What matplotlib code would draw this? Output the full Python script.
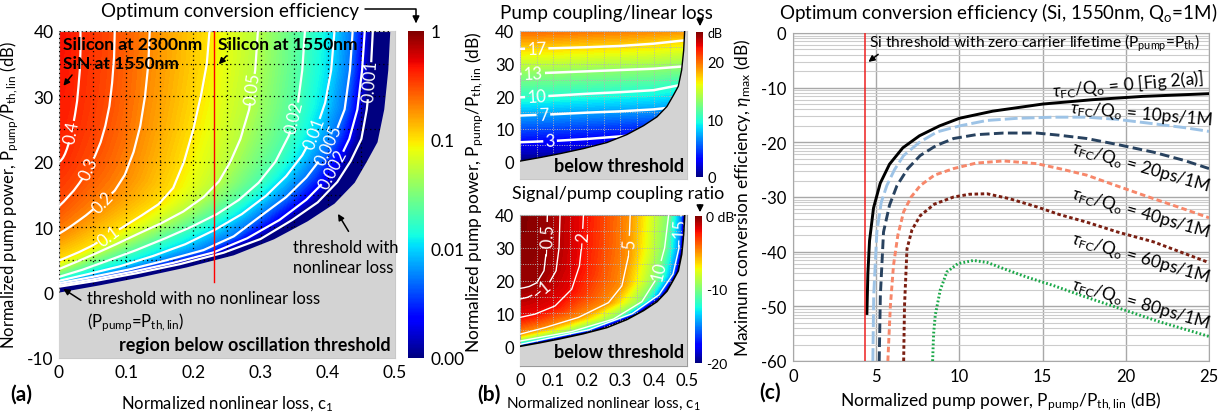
import numpy as np
import matplotlib
matplotlib.use("Agg")
import matplotlib.pyplot as plt
from matplotlib.colors import LogNorm, Normalize
from matplotlib.ticker import FixedLocator, MultipleLocator

plt.rcParams['font.family'] = ['Lato', 'DejaVu Sans']
plt.rcParams['mathtext.fontset'] = 'custom'
plt.rcParams['mathtext.rm'] = 'Lato'
plt.rcParams['mathtext.it'] = 'Lato:italic'
plt.rcParams['axes.unicode_minus'] = False
plt.rcParams['contour.negative_linestyle'] = 'solid'

# ---------------- data ----------------
# oscillation threshold with nonlinear loss (c1, dB)
thr_c1 = [0.493, 0.490, 0.484, 0.474, 0.458, 0.44, 0.41, 0.37, 0.32, 0.26, 0.19, 0.12, 0.06, 0.0]
thr_p = [40, 34, 28, 23, 20, 16.8, 13.6, 10.9, 8.15, 5.7, 3.85, 2.3, 1.1, 0.0]

# (a) optimum conversion efficiency, contour lines (top edge -> left edge)
eta_levels = [0.001, 0.002, 0.005, 0.01, 0.02, 0.05, 0.1, 0.2, 0.3, 0.4]
eta_c1 = [
    [0.467, 0.464, 0.458, 0.450, 0.434, 0.414, 0.385, 0.347, 0.30, 0.245, 0.18, 0.115, 0.055, 0],
    [0.455, 0.451, 0.444, 0.432, 0.418, 0.398, 0.368, 0.328, 0.28, 0.23, 0.17, 0.11, 0.052, 0],
    [0.437, 0.433, 0.425, 0.410, 0.392, 0.368, 0.338, 0.300, 0.26, 0.215, 0.16, 0.105, 0.05, 0],
    [0.410, 0.405, 0.396, 0.382, 0.362, 0.338, 0.308, 0.272, 0.232, 0.188, 0.14, 0.09, 0.042, 0],
    [0.366, 0.362, 0.355, 0.342, 0.322, 0.297, 0.268, 0.235, 0.198, 0.158, 0.115, 0.073, 0.035, 0],
    [0.296, 0.292, 0.283, 0.270, 0.255, 0.238, 0.215, 0.185, 0.152, 0.118, 0.085, 0.055, 0.026, 0],
    [0.224, 0.220, 0.212, 0.200, 0.186, 0.170, 0.148, 0.123, 0.098, 0.071, 0.048, 0.03, 0.014, 0],
    [0.135, 0.133, 0.128, 0.121, 0.111, 0.098, 0.083, 0.068, 0.053, 0.04, 0.028, 0.017, 0.008, 0],
    [0.083, 0.082, 0.079, 0.075, 0.069, 0.062, 0.054, 0.046, 0.038, 0.03, 0.022, 0.014, 0.007, 0],
    [0.032, 0.032, 0.031, 0.029, 0.027, 0.024, 0.021, 0.018, 0.015, 0.012, 0.009, 0.006, 0.003, 0],
]
eta_p = [
    [40, 34, 28, 23.5, 20.1, 16.9, 13.8, 11.1, 8.2, 6.1, 4.35, 2.95, 1.8, 0.9],
    [40, 34, 28, 23.5, 20.5, 17.3, 14.2, 11.1, 8.3, 6.15, 4.55, 3.2, 2.05, 1.15],
    [40, 34, 28, 24, 20.8, 17.6, 14.6, 11.7, 8.6, 6.5, 4.95, 3.55, 2.4, 1.45],
    [40, 34, 29, 24.8, 21, 17.8, 14.8, 12, 9.6, 7.4, 5.6, 4.0, 2.8, 1.8],
    [40, 34, 28.5, 24, 20, 16.8, 14.2, 12, 10.1, 8.3, 6.5, 4.9, 3.5, 2.4],
    [40, 34, 28, 23.5, 20, 17, 14.6, 12.4, 10.6, 9.0, 7.4, 6.0, 4.7, 3.6],
    [40, 35, 30.5, 25, 20, 16, 13.5, 11.8, 10.2, 8.5, 7.1, 6.2, 5.5, 4.9],
    [40, 35, 30, 25.5, 21.5, 18, 15.6, 14.1, 12.9, 11.8, 10.9, 10.1, 9.5, 9.0],
    [40, 36, 32, 28.5, 25.5, 23, 21, 19.3, 17.9, 16.7, 15.6, 14.7, 13.9, 13.2],
    [40, 37, 34, 31.5, 29.3, 27.3, 25.6, 24.2, 23, 22, 21.2, 20.6, 20.2, 19.9],
]
eta_below = 3e-4      # below 0.001 -> bottom colour
eta_corner = 0.5      # top-left corner (c1 = 0, 40 dB)
eta_labels = ['0.001', '0.002', '0.005', '0.01', '0.02', '0.05', '0.1', '0.2', '0.3', '0.4']
eta_label_pos = [(0.462, 32.4), (0.408, 19.0), (0.403, 22.5), (0.383, 24.3), (0.353, 26.8),
                 (0.289, 31.2), (0.073, 8.7), (0.063, 14.1), (0.038, 19.2), (0.013, 24.7)]
si1550_c1 = 0.23

# (b, top) pump coupling / linear loss (dB), lines from c1 = 0 to 0.5
pc_c1 = [0, 0.1, 0.2, 0.3, 0.4, 0.5]
pc_levels = [0, 3, 7, 10, 13, 17]
pc_p = [
    [0, 0, 0, 0, 0, 0],
    [5.8, 6.2, 6.8, 7.6, 8.5, 9.4],
    [14.0, 14.4, 14.9, 15.3, 15.9, 17.0],
    [19.6, 20.1, 20.7, 21.2, 21.8, 23.8],
    [26.8, 27.2, 27.6, 28.0, 28.4, 29.2],
    [34.5, 34.7, 35.0, 35.4, 36.1, 37.2],
]
pc_top = [20.0, 19.9, 19.7, 19.5, 19.2, 18.8]   # values along 40 dB
pc_label_pos = [(0.09, 6.3), (0.07, 14.3), (0.05, 19.8), (0.04, 26.9), (0.05, 34.6)]

# (b, bottom) signal / pump coupling ratio (dB), top edge -> left edge
sp_levels = [-20, -15, -10, -5, -2, -1, -0.5]
sp_c1 = [
    [0.493, 0.486, 0.470, 0.430, 0.350, 0.220, 0],
    [0.482, 0.476, 0.458, 0.416, 0.335, 0.205, 0],
    [0.445, 0.433, 0.408, 0.365, 0.280, 0.155, 0],
    [0.330, 0.325, 0.305, 0.265, 0.175, 0.075, 0],
    [0.190, 0.186, 0.178, 0.155, 0.105, 0.045, 0],
    [0.120, 0.117, 0.108, 0.085, 0.050, 0.022, 0],
    [0.082, 0.080, 0.072, 0.050, 0.028, 0.012, 0],
]
sp_p = [
    [40, 30, 22.2, 15.7, 9.8, 4.65, 0],
    [40, 30, 22, 15.7, 9.9, 5.0, 0.6],
    [40, 30, 20.5, 13.6, 8.3, 4.5, 1.6],
    [40, 27.6, 18.4, 13.3, 8.8, 5.7, 3.7],
    [40, 32, 24.5, 17.4, 12.3, 9.8, 8.8],
    [40, 30, 23, 18.9, 16.2, 14.9, 14.4],
    [40, 30, 23, 19.3, 18.2, 17.8, 17.6],
]
sp_corner = 0.0
sp_labels = ['\u221215', '10', '\u22125', '\u22122', '\u22121', '\u22120.5']
sp_label_pos = [(0.474, 35.2), (0.414, 23), (0.318, 30.6), (0.185, 32.7), (0.065, 17.3), (0.078, 33)]

# (c) optimum conversion efficiency vs pump power, Si 1550 nm, Qo = 1M
fc_labels = ['0 [Fig 2(a)]', '10ps/1M', '20ps/1M', '40ps/1M', '60ps/1M', '80ps/1M']
fc_x = [
    [4.44, 4.50, 4.60, 4.84, 5.24, 5.8, 6.6, 7.6, 8.8, 10, 12, 15, 18, 21, 25],
    [4.80, 4.85, 5.04, 5.3, 5.64, 6.1, 6.65, 7.6, 8.65, 10, 11.65, 13.5, 15.65, 17.65, 19.5, 21.66, 23.5, 25],
    [5.18, 5.25, 5.44, 5.8, 6.25, 6.9, 7.65, 8.6, 9.65, 11, 12.65, 14.65, 16, 17.65, 19.5, 21.66, 23.5, 25],
    [5.7, 5.85, 6.04, 6.3, 6.65, 7.1, 7.65, 8.5, 9.65, 11, 12.65, 14.65, 16, 17.65, 19.5, 21.66, 23.5, 25],
    [6.65, 6.7, 6.85, 7.15, 7.65, 8.5, 9.65, 10.6, 11.65, 13, 14.65, 16, 17.65, 19.5, 21.66, 23.5, 25],
    [8.39, 8.45, 8.55, 8.85, 9.25, 9.9, 10.85, 11.7, 12.65, 14, 15.65, 17.5, 19.65, 22, 25],
]
fc_y = [
    [-51.3, -44, -38, -32, -27.5, -24, -21, -18.8, -17, -15.6, -14.3, -13.0, -12.2, -11.6, -11.1],
    [-60, -48, -36.4, -31, -27.9, -25, -22.4, -20, -18.1, -17, -16.0, -15.6, -15.4, -15.4, -15.8, -16.6, -17.3, -18.0],
    [-60, -48, -36.4, -31.5, -27.9, -24.8, -22.4, -20.6, -19.3, -18.6, -18.3, -18.3, -18.7, -19.3, -20.4, -21.8, -23.3, -24.8],
    [-60, -50, -42.5, -37, -32.7, -30, -27.9, -26, -24.8, -23.8, -23.4, -23.9, -24.8, -26.0, -28.0, -30.3, -32.2, -33.8],
    [-60, -50, -39.5, -36, -33.4, -31.3, -30.0, -29.5, -29.4, -30.3, -31.8, -33.2, -34.6, -36.4, -38.2, -40.3, -42.0],
    [-60, -55, -51.6, -47, -43.7, -42.2, -41.6, -42.0, -43.1, -44.6, -46.2, -48.2, -50.4, -52.8, -55.5],
]
si_thr_x = 4.35

# ---------------- figure ----------------
W, H = 1228, 414
fig = plt.figure(figsize=(W / 100, H / 100), dpi=100)


def box(x0, y0, x1, y1):
    # image pixel box -> figure fraction rect
    return [x0 / W, 1 - y1 / H, (x1 - x0) / W, (y1 - y0) / H]


def ftext(x, y, s, **kw):
    fig.text(x / W, 1 - y / H, s, **kw)


def farrow(x0, y0, x1, y1, **kw):
    fig.add_artist(matplotlib.patches.FancyArrowPatch(
        (x0 / W, 1 - y0 / H), (x1 / W, 1 - y1 / H), transform=fig.transFigure,
        arrowstyle='-|>', mutation_scale=10, color='k', lw=1.1, **kw))


GREY = '#d3d3d3'
jet = plt.get_cmap('jet')
thr_poly_x = thr_c1 + [0, 0.7, 0.7, thr_c1[0]]
thr_poly_y = thr_p + [-30, -30, 50, 50]
lab_sub = r'Normalized pump power, P$_{\rm pump}$/P$_{\rm th,lin}$ (dB)'

# ===== (a) =====
ax1 = fig.add_axes(box(59, 32, 395, 359))
cax1 = fig.add_axes(box(408, 32, 424, 359))
n = len(thr_c1)
X = np.array([thr_c1] + eta_c1 + [[0.0] * n])
Y = np.array([thr_p] + eta_p + [[40.0] * n])
Z = np.log10(np.array([eta_below] + eta_levels + [eta_corner]))[:, None] * np.ones(n)
ax1.contourf(X, Y, Z, levels=np.linspace(-3.6, 0.01, 150), cmap=jet,
             norm=Normalize(-3, 0), zorder=1, antialiased=False)
cs = ax1.contour(X, Y, Z, levels=np.log10(eta_levels) + 1e-4, colors='w',
                 linewidths=1.6, linestyles='solid', zorder=4)
ax1.clabel(cs, levels=cs.levels, inline=True, fontsize=12, inline_spacing=2,
           fmt=dict(zip(cs.levels, eta_labels)), manual=eta_label_pos)
ax1.fill(thr_poly_x, thr_poly_y, color=GREY, lw=0, zorder=3)
ax1.plot([si1550_c1, si1550_c1], [1.6, 40], color='red', lw=1, zorder=5)
ax1.set_xlim(0, 0.5)
ax1.set_ylim(-10, 40)
ax1.set_xticks(np.arange(0, 0.51, 0.1))
ax1.set_xticklabels(['0', '0.1', '0.2', '0.3', '0.4', '0.5'])
ax1.set_yticks([-10, 0, 10, 20, 30, 40])
ax1.xaxis.set_minor_locator(MultipleLocator(0.05))
ax1.yaxis.set_minor_locator(MultipleLocator(5))
ax1.set_axisbelow(False)
ax1.grid(which='both', color='k', ls=(0, (1, 2.5)), lw=0.9)
ax1.tick_params(which='both', length=0, labelsize=12.5, pad=4)
for s in ax1.spines.values():
    s.set_color('#c8c8c8')
ax1.set_xlabel(r'Normalized nonlinear loss, c$_1$', fontsize=12, labelpad=10)
ax1.set_ylabel(lab_sub, fontsize=12, labelpad=4)

cb1 = fig.colorbar(plt.cm.ScalarMappable(norm=LogNorm(1e-3, 1), cmap=jet), cax=cax1)
cb1.set_ticks([1e-3, 1e-2, 1e-1, 1])
cb1.set_ticklabels(['0.00', '0.01', '0.1', '1'])
cb1.minorticks_off()
cb1.outline.set_visible(False)
cax1.tick_params(length=0, labelsize=12.5, pad=5)

ax1.text(0.006, 39.3, 'Silicon at 2300nm\nSiN at 1550nm', fontsize=12.5, weight='bold',
         va='top', ha='left', linespacing=1.25, zorder=6)
ax1.annotate('', xy=(0.004, 31.3), xytext=(0.022, 33.6),
             arrowprops=dict(arrowstyle='-|>', color='k', lw=1.1, mutation_scale=9), zorder=6)
ax1.text(0.236, 39.3, 'Silicon at 1550nm', fontsize=12.5, weight='bold', va='top', ha='left', zorder=6)
ax1.annotate('', xy=(0.235, 34.6), xytext=(0.252, 36.5),
             arrowprops=dict(arrowstyle='-|>', color='k', lw=1.1, mutation_scale=9), zorder=6)
ax1.text(0.348, 5.4, 'threshold with\nnonlinear loss', fontsize=12, va='center', ha='left',
         linespacing=1.3, zorder=6)
ax1.annotate('', xy=(0.413, 12.4), xytext=(0.433, 9.0),
             arrowprops=dict(arrowstyle='-|>', color='k', lw=1.1, mutation_scale=9), zorder=6)
ax1.text(0.042, -0.9, 'threshold with no nonlinear loss', fontsize=12, va='center', ha='left', zorder=6)
ax1.text(0.042, -4.4, r'(P$_{\rm pump}$=P$_{\rm th,lin}$)', fontsize=12, va='center', ha='left', zorder=6)
ax1.annotate('', xy=(0.003, 0.8), xytext=(0.036, -1.4),
             arrowprops=dict(arrowstyle='-|>', color='k', lw=1.1, mutation_scale=9), zorder=6)
ax1.text(0.493, -8.0, 'region below oscillation threshold', fontsize=13, weight='bold',
         va='center', ha='right', zorder=6)

ftext(230, 12, 'Optimum conversion efficiency', fontsize=13.5, ha='center', va='center')
fig.add_artist(matplotlib.patches.FancyArrowPatch(
    (362 / W, 1 - 10 / H), (416 / W, 1 - 27 / H), transform=fig.transFigure,
    connectionstyle='angle,angleA=0,angleB=90,rad=0', arrowstyle='-|>',
    mutation_scale=10, color='k', lw=1.1))
ftext(21, 395, '(a)', fontsize=15, weight='bold', ha='center', va='center')

# ===== (b) top =====
ax2 = fig.add_axes(box(520, 32, 687, 180))
cax2 = fig.add_axes(box(696, 33, 703, 178))
X = np.array([pc_c1] * (len(pc_p) + 1))
Y = np.array(pc_p + [[40.0] * len(pc_c1)])
Z = np.array([[v] * len(pc_c1) for v in pc_levels] + [pc_top])
ax2.contourf(X, Y, Z, levels=np.linspace(0, 25, 101), cmap=jet, extend='both',
             zorder=1, antialiased=False)
cs = ax2.contour(X, Y, Z, levels=np.array(pc_levels[1:]) + 1e-3, colors='w',
                 linewidths=1.8, linestyles='solid', zorder=3)
ax2.clabel(cs, inline=True, fontsize=12, inline_spacing=2,
           fmt=dict(zip(cs.levels, [str(v) for v in pc_levels[1:]])), manual=pc_label_pos)
ax2.fill(thr_poly_x, thr_poly_y, color=GREY, lw=0, zorder=4)
ax2.plot(thr_c1, thr_p, color='k', lw=1, zorder=5)
ax2.set_xlim(0, 0.5)
ax2.set_ylim(-5.5, 40)
ax2.set_xticks(np.arange(0, 0.51, 0.1))
ax2.set_xticklabels([])
ax2.set_yticks([0, 10, 20, 30, 40])
ax2.xaxis.set_minor_locator(MultipleLocator(0.05))
ax2.yaxis.set_minor_locator(MultipleLocator(5))
ax2.set_axisbelow(False)
ax2.grid(which='both', color='#b4b4b4', ls=(0, (1, 1.5)), lw=0.7)
ax2.tick_params(which='both', length=0, labelsize=12, pad=4)
for s in ax2.spines.values():
    s.set_color('#c8c8c8')
ax2.text(0.49, -1.4, 'below threshold', fontsize=13, weight='bold', ha='right', va='center', zorder=6)

cb2 = fig.colorbar(plt.cm.ScalarMappable(norm=Normalize(0, 25), cmap=jet), cax=cax2)
cb2.set_ticks([0, 10, 20])
cb2.outline.set_visible(False)
cax2.tick_params(length=0, labelsize=10.5, pad=3)
ftext(707, 34, 'dB', fontsize=9, ha='left', va='center')
ftext(606, 13, 'Pump coupling/linear loss', fontsize=13.5, ha='center', va='center')
farrow(700, 17, 700, 30)

# ===== (b) bottom =====
ax3 = fig.add_axes(box(520, 216, 687, 367))
cax3 = fig.add_axes(box(695, 217, 702, 364))
m = len(sp_c1[0])
X = np.array(sp_c1 + [[0.0] * m])
Y = np.array(sp_p + [[40.0] * m])
Z = np.array(sp_levels + [sp_corner])[:, None] * np.ones(m)
ax3.contourf(X, Y, Z, levels=np.linspace(-20.5, 0.5, 101), cmap=jet, norm=Normalize(-20, 0),
             zorder=1, antialiased=False)
cs = ax3.contour(X, Y, Z, levels=np.array(sp_levels[1:]) + 1e-3, colors='w',
                 linewidths=1.0, linestyles='solid', zorder=3)
ax3.clabel(cs, inline=True, fontsize=12, inline_spacing=2,
           fmt=dict(zip(cs.levels, sp_labels)), manual=sp_label_pos)
ax3.fill(thr_poly_x, thr_poly_y, color=GREY, lw=0, zorder=4)
ax3.plot(thr_c1, thr_p, color='k', lw=1.2, zorder=5)
ax3.set_xlim(0, 0.5)
ax3.set_ylim(-6, 40)
ax3.set_xticks(np.arange(0, 0.51, 0.1))
ax3.set_xticklabels(['0', '0.1', '0.2', '0.3', '0.4', '0.5'])
ax3.set_yticks([0, 10, 20, 30, 40])
ax3.xaxis.set_minor_locator(MultipleLocator(0.05))
ax3.yaxis.set_minor_locator(MultipleLocator(5))
ax3.set_axisbelow(False)
ax3.grid(which='both', color='#b4b4b4', ls=(0, (1, 1.5)), lw=0.7)
ax3.tick_params(which='both', length=0, labelsize=12, pad=4)
for s in ax3.spines.values():
    s.set_color('#9a9a9a')
ax3.text(0.49, -1.6, 'below threshold', fontsize=13, weight='bold', ha='right', va='center', zorder=6)
ax3.set_xlabel(r'Normalized nonlinear loss, c$_1$', fontsize=11, labelpad=5)

cb3 = fig.colorbar(plt.cm.ScalarMappable(norm=Normalize(-20, 0), cmap=jet), cax=cax3)
cb3.set_ticks([-20, -10, 0])
cb3.set_ticklabels(['-20', '-10', '0 dB'])
cb3.outline.set_visible(False)
cax3.tick_params(length=0, labelsize=10, pad=3)
ftext(512, 194, 'Signal/pump coupling ratio', fontsize=13, ha='left', va='center')
farrow(700, 203, 700, 216)

ftext(475, 192, lab_sub, fontsize=12.5, rotation=90, ha='center', va='center')
ftext(489, 395, '(b)', fontsize=15, weight='bold', ha='center', va='center')

# ===== (c) =====
ax4 = fig.add_axes(box(793, 34, 1209, 362))
styles = [
    dict(color='k', ls='-'),
    dict(color='#9dc3e6', dashes=(4.4, 1.4)),
    dict(color='#28425f', dashes=(3.3, 1.5)),
    dict(color='#f7876a', dashes=(1.9, 1.1)),
    dict(color='#7a1f12', dashes=(1.2, 0.9)),
    dict(color='#1aa848', dashes=(0.6, 0.75)),
]
for xs, ys, st in zip(fc_x, fc_y, styles):
    ax4.plot(xs, ys, lw=2.1, zorder=4, **st)
ax4.axvline(si_thr_x, color='#ee2020', lw=1.1, zorder=5)

minor_db = [10 * np.log10(k * 10.0 ** e) for e in range(-6, 0) for k in range(2, 10)]
ax4.set_xlim(0, 25)
ax4.set_ylim(-60, 0)
ax4.set_xticks([0, 5, 10, 15, 20, 25])
ax4.set_yticks([-60, -50, -40, -30, -20, -10, 0])
ax4.yaxis.set_minor_locator(FixedLocator(minor_db))
ax4.grid(which='major', color='#a8a8a8', lw=1.0)
ax4.grid(which='minor', axis='y', color='#cccccc', lw=0.8)
ax4.tick_params(which='both', length=0, labelsize=12, pad=5)
for s in ax4.spines.values():
    s.set_color('#a8a8a8')
ax4.set_xlabel(r'Normalized pump power, P$_{\rm pump}$/P$_{\rm th,lin}$ (dB)', fontsize=12.5, labelpad=4)
ax4.set_ylabel(r'Maximum conversion efficiency, $\eta_{\rm max}$ (dB)', fontsize=12.5)
ax4.yaxis.set_label_coords(-0.095, 0.5)

tau = r'$\tau_{\rm FC}$/Q$_{\rm o}$ = '
lab_xy = [(20.1, -9.3), (20.9, -14.6), (20.9, -24.3), (20.9, -32.7), (20.9, -41.0), (20.9, -49.4)]
lab_rot = [5, -5, -16, -16, -16, -16]
for s, (lx, ly), r in zip(fc_labels, lab_xy, lab_rot):
    ax4.text(lx, ly, tau + s, fontsize=12.5, rotation=r, ha='center', va='center',
             rotation_mode='anchor', zorder=6)
ax4.text(4.55, -1.7, r'Si threshold with zero carrier lifetime (P$_{\rm pump}$=P$_{\rm th}$)',
         fontsize=11.2, ha='left', va='center', zorder=6)
ax4.annotate('', xy=(4.4, -5.6), xytext=(5.25, -3.6),
             arrowprops=dict(arrowstyle='-|>', color='k', lw=1.1, mutation_scale=9), zorder=6)
ftext(998, 12, r'Optimum conversion efficiency (Si, 1550nm, Q$_{\rm o}$=1M)', fontsize=13.5,
      ha='center', va='center')
ftext(770, 393, '(c)', fontsize=15, weight='bold', ha='center', va='center')

fig.savefig('out.png', dpi=100)
